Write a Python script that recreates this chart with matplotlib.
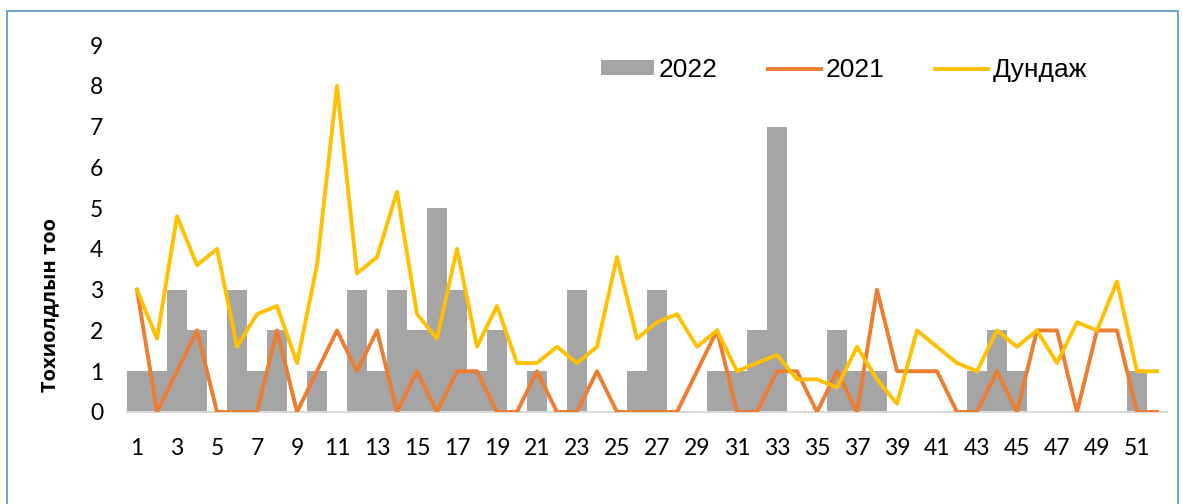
import matplotlib
matplotlib.use("Agg")
import matplotlib.pyplot as plt
from matplotlib.patches import Rectangle, Patch
from matplotlib.lines import Line2D

weeks = list(range(1, 53))
cases_2022 = [1, 1, 3, 2, 0, 3, 1, 2, 0, 1,
              0, 3, 1, 3, 2, 5, 3, 1, 2, 0,
              1, 0, 3, 0, 0, 1, 3, 0, 0, 1,
              1, 2, 7, 0, 0, 2, 1, 1, 0, 0,
              0, 0, 1, 2, 1, 0, 0, 0, 0, 0,
              1, 0]
cases_2021 = [3, 0, 1, 2, 0, 0, 0, 2, 0, 1,
              2, 1, 2, 0, 1, 0, 1, 1, 0, 0,
              1, 0, 0, 1, 0, 0, 0, 0, 1, 2,
              0, 0, 1, 1, 0, 1, 0, 3, 1, 1,
              1, 0, 0, 1, 0, 2, 2, 0, 2, 2,
              0, 0]
average = [3.0, 1.8, 4.8, 3.6, 4.0, 1.6, 2.4, 2.6, 1.2, 3.6,
           8.0, 3.4, 3.8, 5.4, 2.4, 1.8, 4.0, 1.6, 2.6, 1.2,
           1.2, 1.6, 1.2, 1.6, 3.8, 1.8, 2.2, 2.4, 1.6, 2.0,
           1.0, 1.2, 1.4, 0.8, 0.8, 0.6, 1.6, 0.8, 0.2, 2.0,
           1.6, 1.2, 1.0, 2.0, 1.6, 2.0, 1.2, 2.2, 2.0, 3.2,
           1.0, 1.0]
xtick_labels = [str(w) for w in weeks[::2]]
series_names = ["2022", "2021", "Дундаж"]
ylabel = "Тохиолдлын тоо"

W, H = 1183, 504
fig = plt.figure(figsize=(W / 100, H / 100), dpi=100)
ax = fig.add_axes([127 / W, (H - 412) / H, (1167 - 127) / W, (412 - 45) / H])

c_bar = "#A5A5A5"
c_2021 = "#ED7D31"
c_avg = "#FFC000"

ax.bar(weeks, cases_2022, width=1.0, color=c_bar, zorder=1)
ax.plot(weeks, cases_2021, color=c_2021, lw=2.8, zorder=3, solid_joinstyle="round")
ax.plot(weeks, average, color=c_avg, lw=2.8, zorder=4, solid_joinstyle="round")

ax.set_xlim(0.5, 52.5)
ax.set_ylim(0, 9)
ax.set_yticks(range(0, 10))
ax.set_xticks(weeks[::2])
ax.set_xticklabels(xtick_labels)
for s in ["top", "right", "left"]:
    ax.spines[s].set_visible(False)
ax.spines["bottom"].set_color("#D9D9D9")
ax.spines["bottom"].set_linewidth(1.5)
ax.spines["bottom"].set_zorder(2)
ax.tick_params(axis="both", length=0, labelsize=16.5, labelcolor="black")
ax.tick_params(axis="y", pad=17)
ax.tick_params(axis="x", pad=19)
for lab in ax.get_xticklabels() + ax.get_yticklabels():
    lab.set_fontfamily("Lato")

fig.text(50 / W, (H - 305) / H, ylabel, rotation=90, ha="center", va="center",
         fontsize=14.5, fontweight="bold", family="Open Sans")

handles = [Patch(facecolor=c_bar, edgecolor="none"),
           Line2D([], [], color=c_2021, lw=2.8),
           Line2D([], [], color=c_avg, lw=2.8)]
leg = fig.legend(handles, series_names, loc="center",
                 bbox_to_anchor=(844 / W, (H - 70) / H), ncol=3, frameon=False,
                 prop={"family": "Liberation Sans", "size": 19},
                 handlelength=2.0, handleheight=0.5, handletextpad=0.2,
                 columnspacing=1.9, borderpad=0, borderaxespad=0)

fig.patches.append(Rectangle((7 / W, -0.05), (1178 - 7) / W, (H - 11) / H + 0.05,
                             transform=fig.transFigure, fill=False,
                             edgecolor="#5B9BD5", lw=1.3))

fig.savefig("out.png", dpi=100)
